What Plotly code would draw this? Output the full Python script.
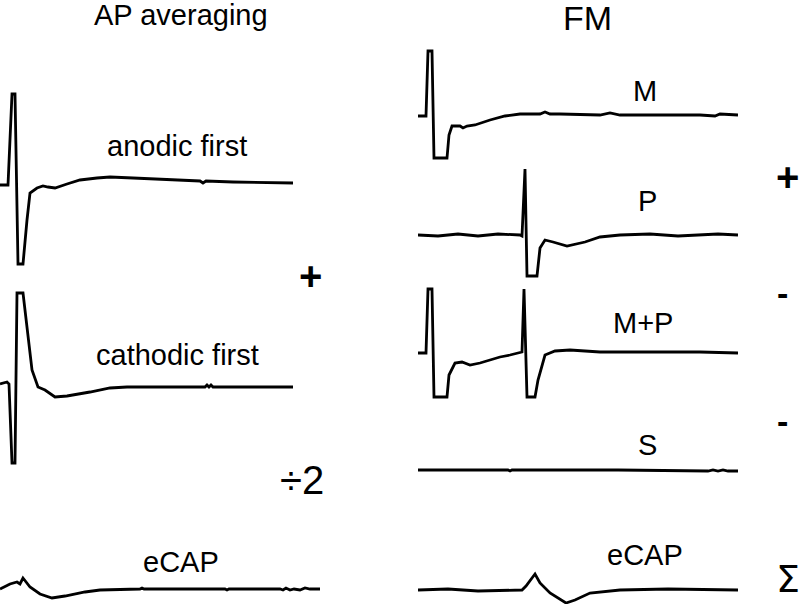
import plotly.graph_objects as go

# ---------------- data (time in ms, amplitude in a.u. relative to baseline) -------------
anodic_t = [0, 0.08, 0.12, 0.15, 0.18, 0.23, 0.27, 0.30, 0.37, 0.43, 0.48, 0.55, 0.67, 0.80,
            0.97, 1.10, 1.33, 1.60, 1.87, 2.00, 2.03, 2.06, 2.33, 2.83, 2.93]
anodic_v = [-1, -1, 90, 90, -80, -80, -36, -9, -4, -2, -3, -4, 0, 4,
            6, 7, 6, 5, 4, 3, 1, 3, 2, 1, 1]

cathodic_t = [0, 0.07, 0.09, 0.12, 0.15, 0.17, 0.23, 0.27, 0.32, 0.38, 0.45, 0.55, 0.67,
              0.90, 1.10, 1.27, 2.05, 2.07, 2.09, 2.11, 2.13, 2.93]
cathodic_v = [3, 5, 3, -76, -76, 94, 94, 57, 17, 0, -3, -10, -9,
              -5, -1, 0, 0, 2, 0, 2, 0, 0]

ecap_avg_t = [0, 0.10, 0.17, 0.20, 0.23, 0.30, 0.40, 0.52, 0.65, 0.85, 1.00, 1.25, 1.40, 1.42,
              1.44, 2.25, 2.27, 2.29, 2.80, 2.83, 2.86, 2.90, 2.94, 3.00, 3.05, 3.10, 3.20]
ecap_avg_v = [0, 5, 7, 5, 11, 2, -5, -9, -7, -3, -1, 0, 0, 1,
              0, 0, -1, 0, 0, -1, 1, -1, 0, -1, 1, 0, 0]

m_t = [0, 0.08, 0.10, 0.14, 0.16, 0.29, 0.31, 0.34, 0.42, 0.45, 0.49, 0.57, 0.72, 0.87,
       1.02, 1.22, 1.27, 1.32, 1.42, 1.82, 1.92, 2.02, 2.32, 2.82, 2.97, 3.02, 3.20]
m_v = [0, 0, 65, 65, -42, -42, -19, -10, -10, -12, -10, -9, -4, 0,
       2, 2, 4, 2, 2, 1, 3, 1, 1, 1, 0, 2, 1]

p_t = [0, 0.20, 0.40, 0.60, 0.80, 1.02, 1.04, 1.07, 1.09, 1.19, 1.22, 1.27, 1.35, 1.49,
       1.67, 1.82, 2.02, 2.32, 2.60, 2.82, 3.00, 3.20]
p_v = [0, -1, 1, -1, 1, 0, -1, 66, -41, -41, -13, -5, -7, -11,
       -7, -2, 0, 1, -1, 0, 1, 0]

mp_t = [0, 0.08, 0.10, 0.14, 0.16, 0.29, 0.31, 0.37, 0.44, 0.52, 0.62, 0.72, 0.82, 0.92, 1.02,
        1.04, 1.06, 1.09, 1.17, 1.20, 1.27, 1.37, 1.52, 1.82, 2.32, 2.82, 3.20]
mp_v = [0, 0, 64, 64, -44, -44, -22, -10, -9, -12, -10, -7, -4, -2, 0,
        1, 64, -44, -44, -27, -2, 2, 3, 1, 1, 1, 0]

s_t = [0, 0.90, 0.92, 0.94, 2.00, 2.90, 2.95, 3.00, 3.05, 3.10, 3.20]
s_v = [0, 0, -1, 0, 0, -1, 0, -1, 0, -1, -1]

ecap_fm_t = [0, 0.30, 0.60, 1.04, 1.08, 1.17, 1.22, 1.32, 1.48, 1.57, 1.72, 2.02, 2.50, 3.20]
ecap_fm_v = [0, 1, -1, 0, 4, 16, 7, -3, -13, -10, -3, 0, 1, 0]

left_labels = ["anodic first", "cathodic first", "eCAP"]
right_labels = ["M", "P", "M+P", "S", "eCAP"]
titles = ["AP averaging", "FM"]
operators = ["+", "÷2", "+", "-", "-", "Σ"]

# ---------------- layout constants ------------------------------------------------------
W, H = 800, 604
baselines_left = [184, 387, 589]
baselines_right = [116, 235, 353, 470, 590]

fig = go.Figure()
line = dict(color="black", width=2.8)

left_series = [(anodic_t, anodic_v), (cathodic_t, cathodic_v), (ecap_avg_t, ecap_avg_v)]
for (t, v), b in zip(left_series, baselines_left):
    fig.add_trace(go.Scatter(x=t, y=[b - a for a in v], mode="lines", line=line,
                             xaxis="x", yaxis="y", hoverinfo="skip"))

right_series = [(m_t, m_v), (p_t, p_v), (mp_t, mp_v), (s_t, s_v), (ecap_fm_t, ecap_fm_v)]
for (t, v), b in zip(right_series, baselines_right):
    fig.add_trace(go.Scatter(x=t, y=[b - a for a in v], mode="lines", line=line,
                             xaxis="x2", yaxis="y", hoverinfo="skip"))

ax = dict(visible=False, showgrid=False, zeroline=False, fixedrange=True)
fig.update_layout(
    width=W, height=H, margin=dict(l=0, r=0, t=0, b=0),
    plot_bgcolor="white", paper_bgcolor="white", showlegend=False,
    xaxis=dict(domain=[0, 320 / W], range=[0, 3.2], **ax),
    xaxis2=dict(domain=[418 / W, 738 / W], range=[0, 3.2], **ax),
    yaxis=dict(domain=[0, 1], range=[H, 0], **ax),
)

def txt(s, px, py, size, family="Liberation Sans"):
    fig.add_annotation(x=px / W, y=1 - py / H, xref="paper", yref="paper", text=s,
                       showarrow=False, xanchor="center", yanchor="middle", borderpad=0,
                       font=dict(size=size, family=family, color="black"))

txt(titles[0], 181, 15, 29)
txt(titles[1], 587, 18, 34)

for s, (px, py) in zip(left_labels, [(177, 146), (177, 355), (181, 562)]):
    txt(s, px, py, 29)
for s, (px, py) in zip(right_labels, [(645, 91), (647, 201), (643, 323), (647, 445), (645, 555)]):
    txt(s, px, py, 29)

op_pos = [(310, 276), (302, 480), (787, 177), (782, 293), (782, 421), (788, 579)]
op_size = [40, 40, 40, 34, 34, 38]
op_font = ["Liberation Sans"] * 5 + ["DejaVu Sans"]
for s, (px, py), sz, fam in zip(operators, op_pos, op_size, op_font):
    txt("<b>%s</b>" % s if s in "+-" else s, px, py, sz, family=fam)

fig.write_html("out.html", config={"displayModeBar": False},
               post_script="document.body.style.margin='0px';")
